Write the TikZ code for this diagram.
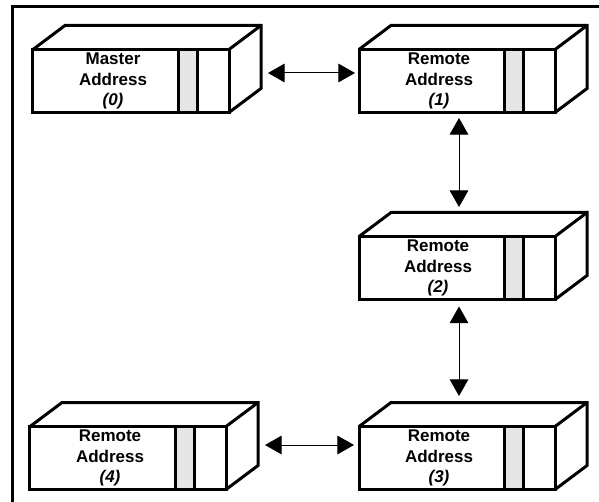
\documentclass[tikz,border=0pt]{standalone}
\usepackage{fontspec}
\setmainfont{Liberation Sans}
\usetikzlibrary{arrows.meta,positioning,calc}
\definecolor{barfill}{RGB}{228,230,230}

\begin{document}
\begin{tikzpicture}[x=0.3mm, y=-0.3mm,
  face/.style={rectangle, draw, line width=0.9mm, outer sep=0pt, inner sep=0pt,
               minimum width=58.8mm, minimum height=18.9mm, line join=miter},
  edge/.style={draw, line width=0.9mm, line join=miter},
  lbl/.style={align=center, font=\bfseries\fontsize{14.5}{17.5}\selectfont},
  arr/.style={{Triangle[length=5mm,width=5.6mm]}-{Triangle[length=5mm,width=5.6mm]}, line width=0.3mm}
]
\useasboundingbox (0,0) rectangle (599,502);
\draw[line width=0.8mm] (12.5,502) -- (12.5,6.7) -- (599,6.7);

\node[face](m0) at (131,81){};
\node[face](r1) at (457,81){};
\node[face](r2) at (457,268){};
\node[face](r3) at (457,458){};
\node[face](r4) at (128,458){};

\foreach \n in {m0,r1,r2,r3,r4}{
  \draw[edge] (\n.north west) -- ++(32,-24) -- ([shift={(32,-24)}]\n.north east)
    -- ([shift={(32,-24)}]\n.south east) -- (\n.south east);
  \draw[edge] ([shift={(32,-24)}]\n.north east) -- (\n.north east);
  \draw[edge, fill=barfill] ([shift={(145.5,0)}]\n.north west) rectangle ([shift={(164.5,0)}]\n.south west);
}

\node[lbl](m0t) at ([shift={(80,0)}]m0.west){Master\\Address\\\textit{(0)}};
\node[lbl](r1t) at ([shift={(80,0)}]r1.west){Remote\\Address\\\textit{(1)}};
\node[lbl](r2t) at ([shift={(79,0)}]r2.west){Remote\\Address\\\textit{(2)}};
\node[lbl](r3t) at ([shift={(80,0)}]r3.west){Remote\\Address\\\textit{(3)}};
\node[lbl](r4t) at ([shift={(80,0)}]r4.west){Remote\\Address\\\textit{(4)}};

\draw[arr]([shift={(39,-8)}]m0.east)--([shift={(-4,-8)}]r1.west);
\draw[arr]([shift={(2,5.5)}]r1.south)--([shift={(2,-29.5)}]r2.north);
\draw[arr]([shift={(2,7)}]r2.south)--([shift={(2,-30.5)}]r3.north);
\draw[arr]([shift={(39,-13)}]r4.east)--([shift={(-5,-13)}]r3.west);
\end{tikzpicture}
\end{document}
